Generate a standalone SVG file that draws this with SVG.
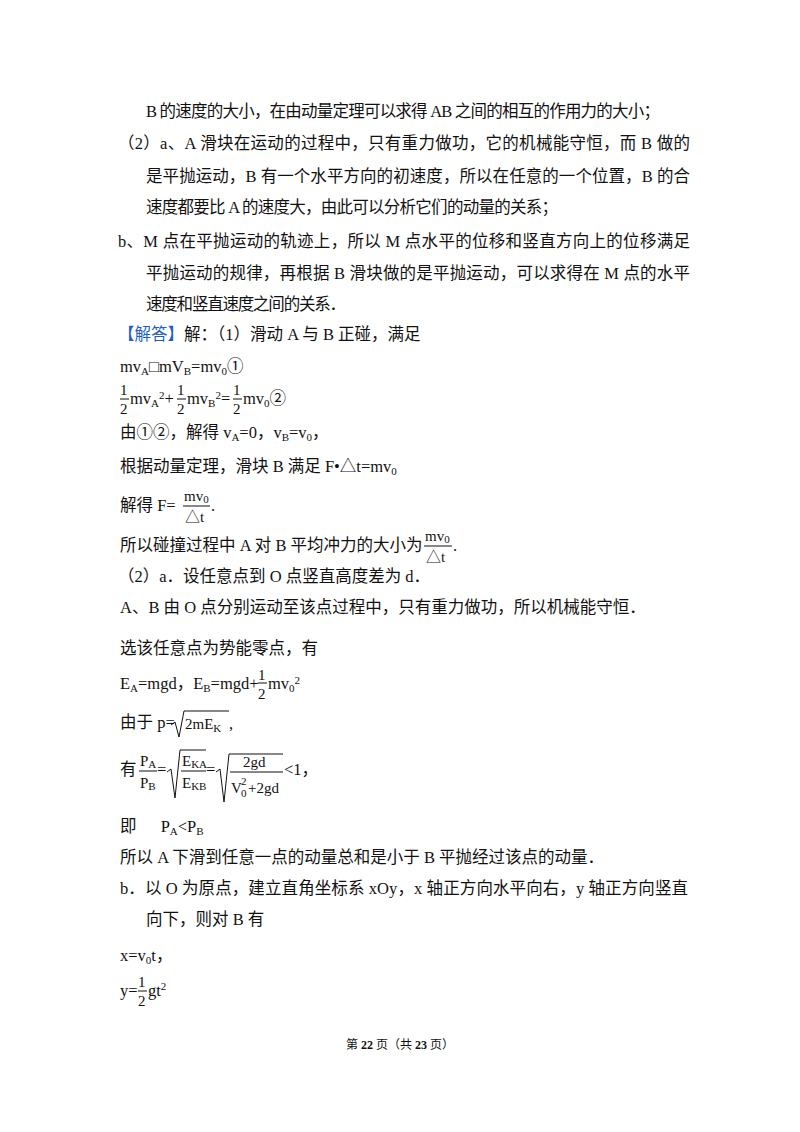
<svg xmlns="http://www.w3.org/2000/svg" width="800" height="1132" viewBox="0 0 800 1132">
<style>
text{font-family:"Liberation Serif","Noto Sans CJK SC",serif;font-size:16.5px;fill:#111}
.s{font-size:11px}
.f{font-size:15px}
.blue{fill:#1f5fbf}
line{stroke:#111;stroke-width:1}
path{fill:none;stroke:#111;stroke-width:1}
</style>
<rect width="800" height="1132" fill="#fff"/>
<text x="146" y="117" textLength="514">B 的速度的大小，在由动量定理可以求得 AB 之间的相互的作用力的大小；</text>
<text x="118" y="149" textLength="572">（2）a、A 滑块在运动的过程中，只有重力做功，它的机械能守恒，而 B 做的</text>
<text x="146" y="182" textLength="544">是平抛运动，B 有一个水平方向的初速度，所以在任意的一个位置，B 的合</text>
<text x="146" y="213" textLength="412">速度都要比 A 的速度大，由此可以分析它们的动量的关系；</text>
<text x="118" y="247" textLength="572">b、M 点在平抛运动的轨迹上，所以 M 点水平的位移和竖直方向上的位移满足</text>
<text x="146" y="279" textLength="544">平抛运动的规律，再根据 B 滑块做的是平抛运动，可以求得在 M 点的水平</text>
<text x="146" y="310" textLength="200">速度和竖直速度之间的关系．</text>
<text x="118" y="340"><tspan class="blue">【解答】</tspan>解：（1）滑动 A 与 B 正碰，满足</text>
<text x="120" y="372">mv<tspan class="s" dy="3">A</tspan><tspan dy="-3">□mV</tspan><tspan class="s" dy="3">B</tspan><tspan dy="-3">=mv</tspan><tspan class="s" dy="3">0</tspan><tspan dy="-3">①</tspan></text>
<g id="eq2">
<text x="120" y="395" class="f">1</text><line x1="120" y1="399" x2="129" y2="399"/><text x="120" y="414" class="f">2</text>
<text x="130" y="404">mv<tspan class="s" dy="3">A</tspan><tspan class="s" dy="-8">2</tspan><tspan dy="5">+</tspan></text>
<text x="177" y="395" class="f">1</text><line x1="177" y1="399" x2="186" y2="399"/><text x="177" y="414" class="f">2</text>
<text x="187" y="404">mv<tspan class="s" dy="3">B</tspan><tspan class="s" dy="-8">2</tspan><tspan dy="5">=</tspan></text>
<text x="233" y="395" class="f">1</text><line x1="233" y1="399" x2="242" y2="399"/><text x="233" y="414" class="f">2</text>
<text x="243" y="404">mv<tspan class="s" dy="3">0</tspan><tspan dy="-3">②</tspan></text>
</g>
<text x="120" y="438">由①②，解得 v<tspan class="s" dy="3">A</tspan><tspan dy="-3">=0，v</tspan><tspan class="s" dy="3">B</tspan><tspan dy="-3">=v</tspan><tspan class="s" dy="3">0</tspan><tspan dy="-3">，</tspan></text>
<text x="120" y="472">根据动量定理，滑块 B 满足 F•△t=mv<tspan class="s" dy="3">0</tspan></text>
<text x="120" y="511">解得 F=</text>
<text x="184" y="501" class="f">mv<tspan class="s" dy="2">0</tspan></text><line x1="183" y1="506" x2="210" y2="506"/><text x="185" y="522" class="f">△t</text>
<text x="211" y="511">.</text>
<text x="120" y="551">所以碰撞过程中 A 对 B 平均冲力的大小为</text>
<text x="425" y="541" class="f">mv<tspan class="s" dy="2">0</tspan></text><line x1="424" y1="546" x2="452" y2="546"/><text x="426" y="562" class="f">△t</text>
<text x="453" y="551">.</text>
<text x="118" y="582">（2）a．设任意点到 O 点竖直高度差为 d．</text>
<text x="120" y="613">A、B 由 O 点分别运动至该点过程中，只有重力做功，所以机械能守恒．</text>
<text x="120" y="654">选该任意点为势能零点，有</text>
<text x="120" y="689">E<tspan class="s" dy="3">A</tspan><tspan dy="-3">=mgd，E</tspan><tspan class="s" dy="3">B</tspan><tspan dy="-3">=mgd+</tspan></text>
<text x="258" y="680" class="f">1</text><line x1="258" y1="683" x2="267" y2="683"/><text x="258" y="699" class="f">2</text>
<text x="268" y="689">mv<tspan class="s" dy="3">0</tspan><tspan class="s" dy="-8">2</tspan></text>
<text x="120" y="728">由于 p=</text>
<path d="M171 725 L175 722 L179 737 L184 711 L229 711"/>
<text x="185" y="729" class="f">2mE<tspan class="s" dy="3">K</tspan></text>
<text x="229" y="729">,</text>
<text x="120" y="775">有</text>
<text x="140" y="766" class="f">P<tspan class="s" dy="2">A</tspan></text><line x1="139" y1="771" x2="157" y2="771"/><text x="140" y="788" class="f">P<tspan class="s" dy="2">B</tspan></text>
<text x="157" y="775">=</text>
<path d="M167 772 L171 769 L175 798 L180 750 L206 750"/>
<text x="182" y="766" class="f">E<tspan class="s" dy="2">KA</tspan></text><line x1="181" y1="771" x2="206" y2="771"/><text x="182" y="788" class="f">E<tspan class="s" dy="2">KB</tspan></text>
<text x="206" y="775">=</text>
<path d="M216 772 L220 769 L224 802 L229 754 L283 754"/>
<text x="243" y="767" class="f">2gd</text><line x1="230" y1="772" x2="283" y2="772"/>
<text x="231" y="793" class="f">V</text><text x="241" y="785" class="s">2</text><text x="241" y="797" class="s">0</text><text x="248" y="793" class="f">+2gd</text>
<text x="284" y="775">&lt;1，</text>
<text x="120" y="832">即 <tspan dx="20">P</tspan><tspan class="s" dy="3">A</tspan><tspan dy="-3">&lt;P</tspan><tspan class="s" dy="3">B</tspan></text>
<text x="120" y="863">所以 A 下滑到任意一点的动量总和是小于 B 平抛经过该点的动量．</text>
<text x="120" y="894" textLength="568">b．以 O 为原点，建立直角坐标系 xOy，x 轴正方向水平向右，y 轴正方向竖直</text>
<text x="146" y="925">向下，则对 B 有</text>
<text x="120" y="961">x=v<tspan class="s" dy="3">0</tspan><tspan dy="-3">t，</tspan></text>
<text x="120" y="996">y=</text>
<text x="138" y="987" class="f">1</text><line x1="138" y1="991" x2="147" y2="991"/><text x="138" y="1006" class="f">2</text>
<text x="148" y="996">gt<tspan class="s" dy="-6">2</tspan></text>
<text x="400" y="1049" text-anchor="middle" style="font-size:12px">第 <tspan font-weight="bold">22</tspan> 页（共 <tspan font-weight="bold">23</tspan> 页）</text>
</svg>
